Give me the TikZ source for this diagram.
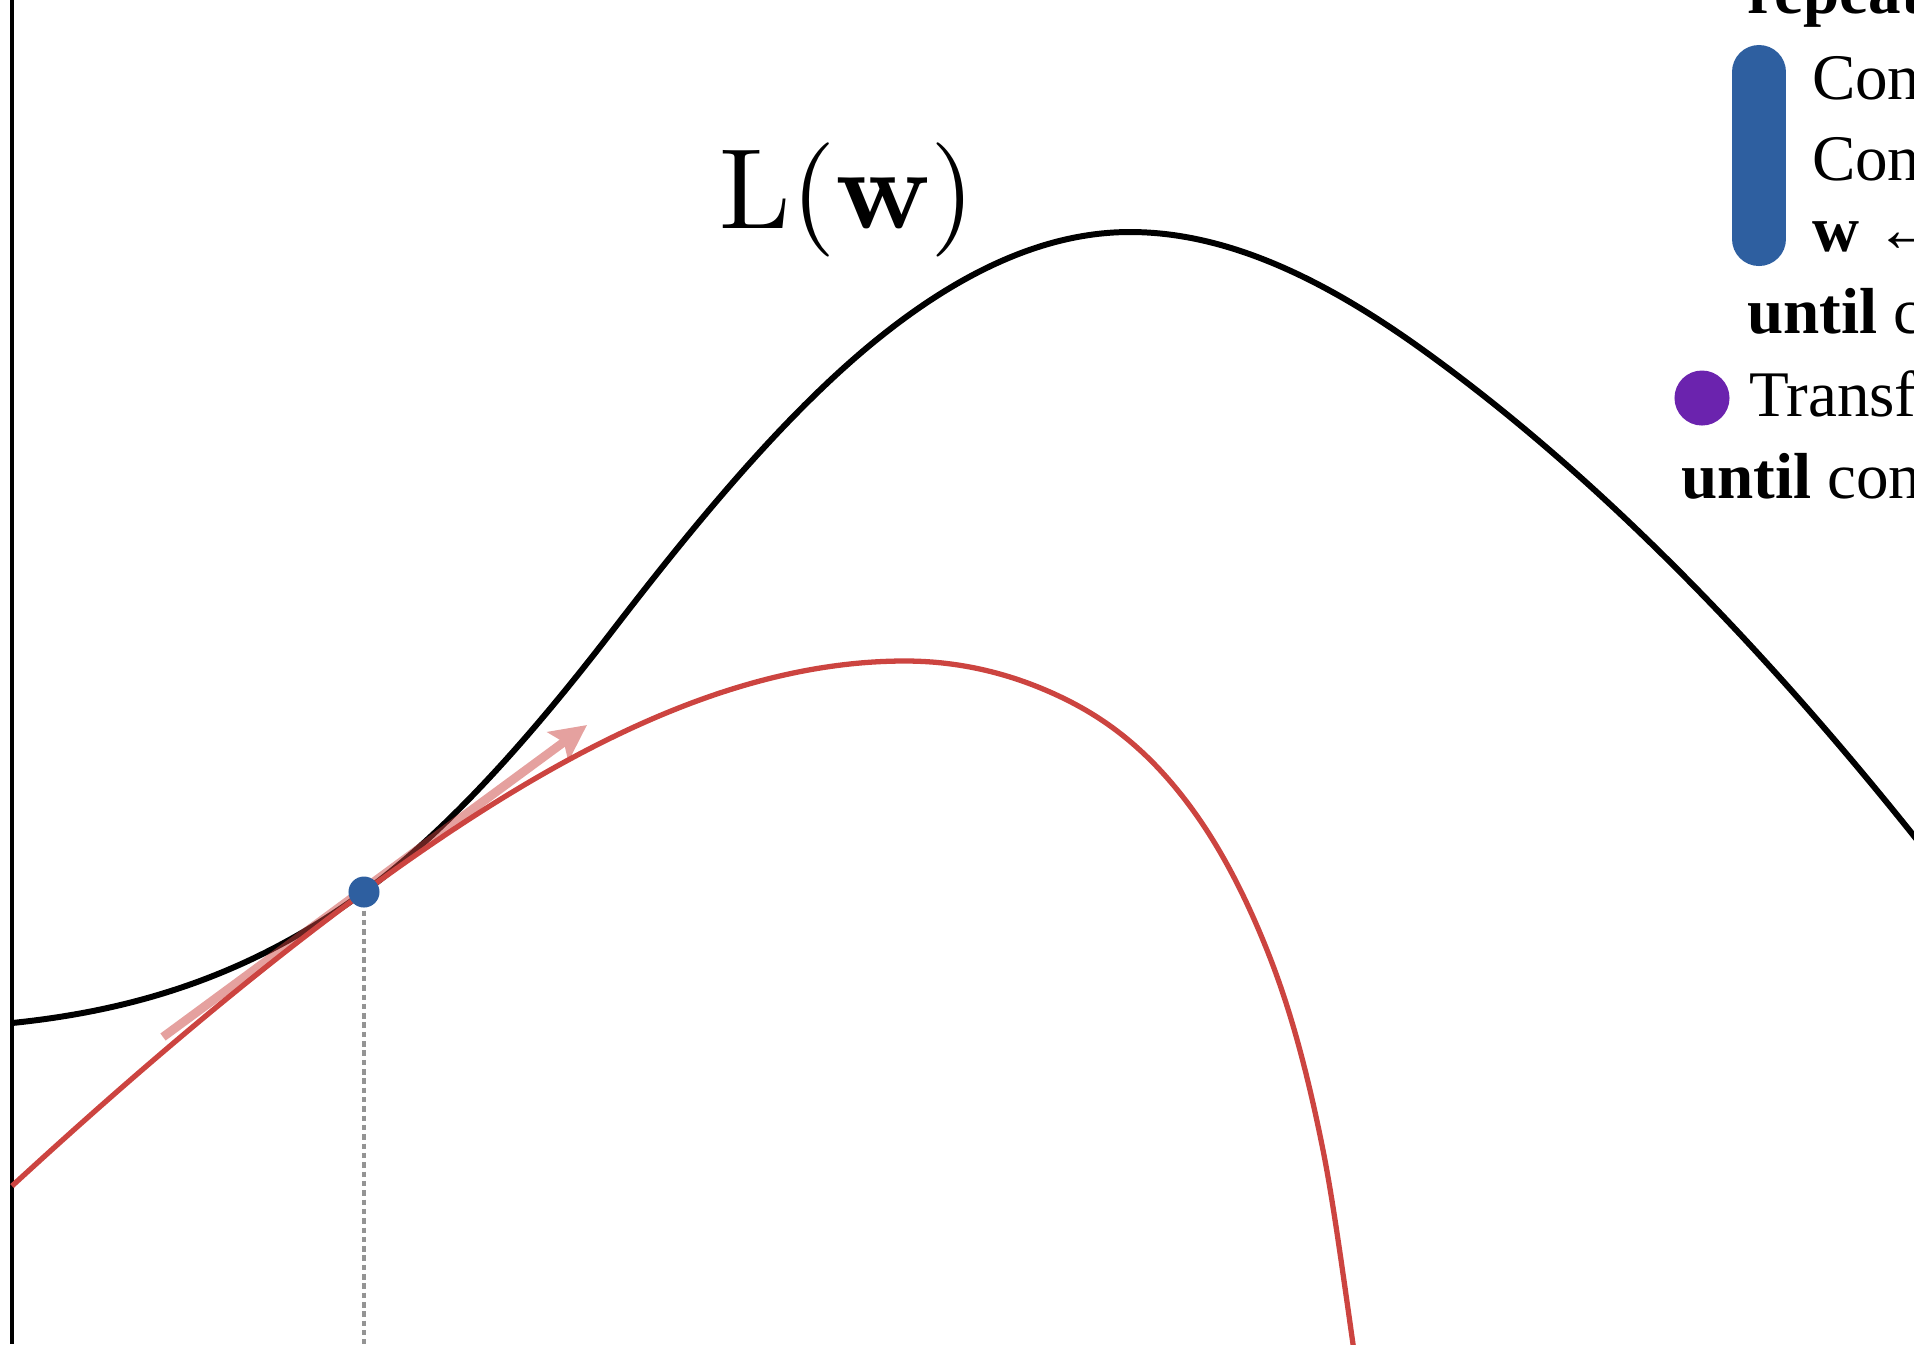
\documentclass[tikz,border=0pt]{standalone}
\usepackage{fontspec}
\newfontfamily\algfont{Liberation Serif}
\newfontfamily\lmten{lmroman10-regular.otf}[BoldFont=lmroman10-bold.otf]
\usetikzlibrary{arrows.meta}
\definecolor{boundred}{RGB}{204,68,64}
\definecolor{dotblue}{RGB}{46,95,160}
\definecolor{outerpurple}{RGB}{107,35,174}
\definecolor{guidegray}{RGB}{148,148,148}
\begin{document}
\begin{tikzpicture}[x=0.01cm,y=-0.01cm,
  axisline/.style={line width=1.0pt, black},
  objective/.style={line width=1.7pt, black, line join=round},
  bound/.style={line width=1.5pt, boundred, line join=round},
  gradarrow/.style={line width=2.5pt, boundred,
    -{Stealth[length=10.2pt, width=10pt, inset=2pt]}},
  guide/.style={line width=1.15pt, guidegray, dash pattern=on 1.55pt off 1.1pt},
  algtext/.style={anchor=base west, inner sep=0pt, outer sep=0pt,
    font=\algfont\fontsize{18.5}{22}\selectfont},
  pill/.style={line width=0.54cm, line cap=round, dotblue}
]
\useasboundingbox (0,0) rectangle (1914,1344);
\clip (0,0) rectangle (1914,1344);

% axis
\coordinate (axtop) at (12,0);
\coordinate (axbot) at (12,1344);
\draw[axisline] (axtop) -- (axbot);

% objective L(w)
\draw[objective] (12,1023)
  .. controls (129.3,1011) and (246.7,978) .. (364,892)
  .. controls (447,831.2) and (530,737.9) .. (613,630)
  .. controls (702,514.3) and (791,408.2) .. (880,337)
  .. controls (963.3,270.3) and (1046.7,232) .. (1130,232)
  .. controls (1227.7,232) and (1325.3,279.7) .. (1423,350)
  .. controls (1586.7,467.8) and (1750.3,631.4) .. (1914,836)
  .. controls (1930,856) and (1946,876) .. (1962,896);

% lower bound
\draw[bound] (12,1186)
  .. controls (129.3,1078.1) and (246.7,978) .. (364,892)
  .. controls (438.3,837.5) and (512.7,788.6) .. (587,750)
  .. controls (693,694.9) and (799,661) .. (905,661)
  .. controls (953.3,661) and (1001.7,670.7) .. (1050,692)
  .. controls (1094.3,711.5) and (1138.7,740.3) .. (1183,797)
  .. controls (1211,832.8) and (1239,880) .. (1267,950)
  .. controls (1285.7,996.7) and (1304.3,1056.5) .. (1323,1150)
  .. controls (1333,1200) and (1343,1274) .. (1353,1344)
  .. controls (1356,1365) and (1358,1385) .. (1360,1400);

% gradient arrow
\coordinate (gtail) at (163,1037);
\coordinate (gtip) at (587,725);
\begin{scope}[transparency group, opacity=0.5]
\draw[gradarrow] (gtail) -- (gtip);
\end{scope}

% current point and guide
\coordinate (w0) at (364,892);
\coordinate (w0base) at (364,1344);
\draw[guide] (w0) -- (w0base);
\node[circle, fill=dotblue, inner sep=0pt, minimum size=0.31cm] (dot) at (w0) {};

% label
\node[anchor=base west, inner sep=0pt, font=\lmten\fontsize{32.5}{37}\selectfont] (Llabel) at (719,228) {L(\textbf{w})};

% algorithm
\coordinate (pilltop) at (1759,72);
\coordinate (pillbot) at (1759,239);
\draw[pill] (pilltop) -- (pillbot);
\node[circle, fill=outerpurple, inner sep=0pt, minimum size=0.55cm] (pdot) at (1702,398) {};

\node[algtext] (trepeat) at (1747,13) {\textbf{repeat}};
\node[algtext] (tcon1) at (1812,99) {Con};
\node[algtext] (tcon2) at (1812,180) {Con};
\node[algtext] (tw) at (1812,251) {\textbf{w} ←};
\node[algtext] (tuntil1) at (1747,333) {\textbf{until} c};
\node[algtext] (ttrans) at (1749,416) {Transf};
\node[algtext] (tuntil2) at (1681,498) {\textbf{until} con};
\end{tikzpicture}
\end{document}
